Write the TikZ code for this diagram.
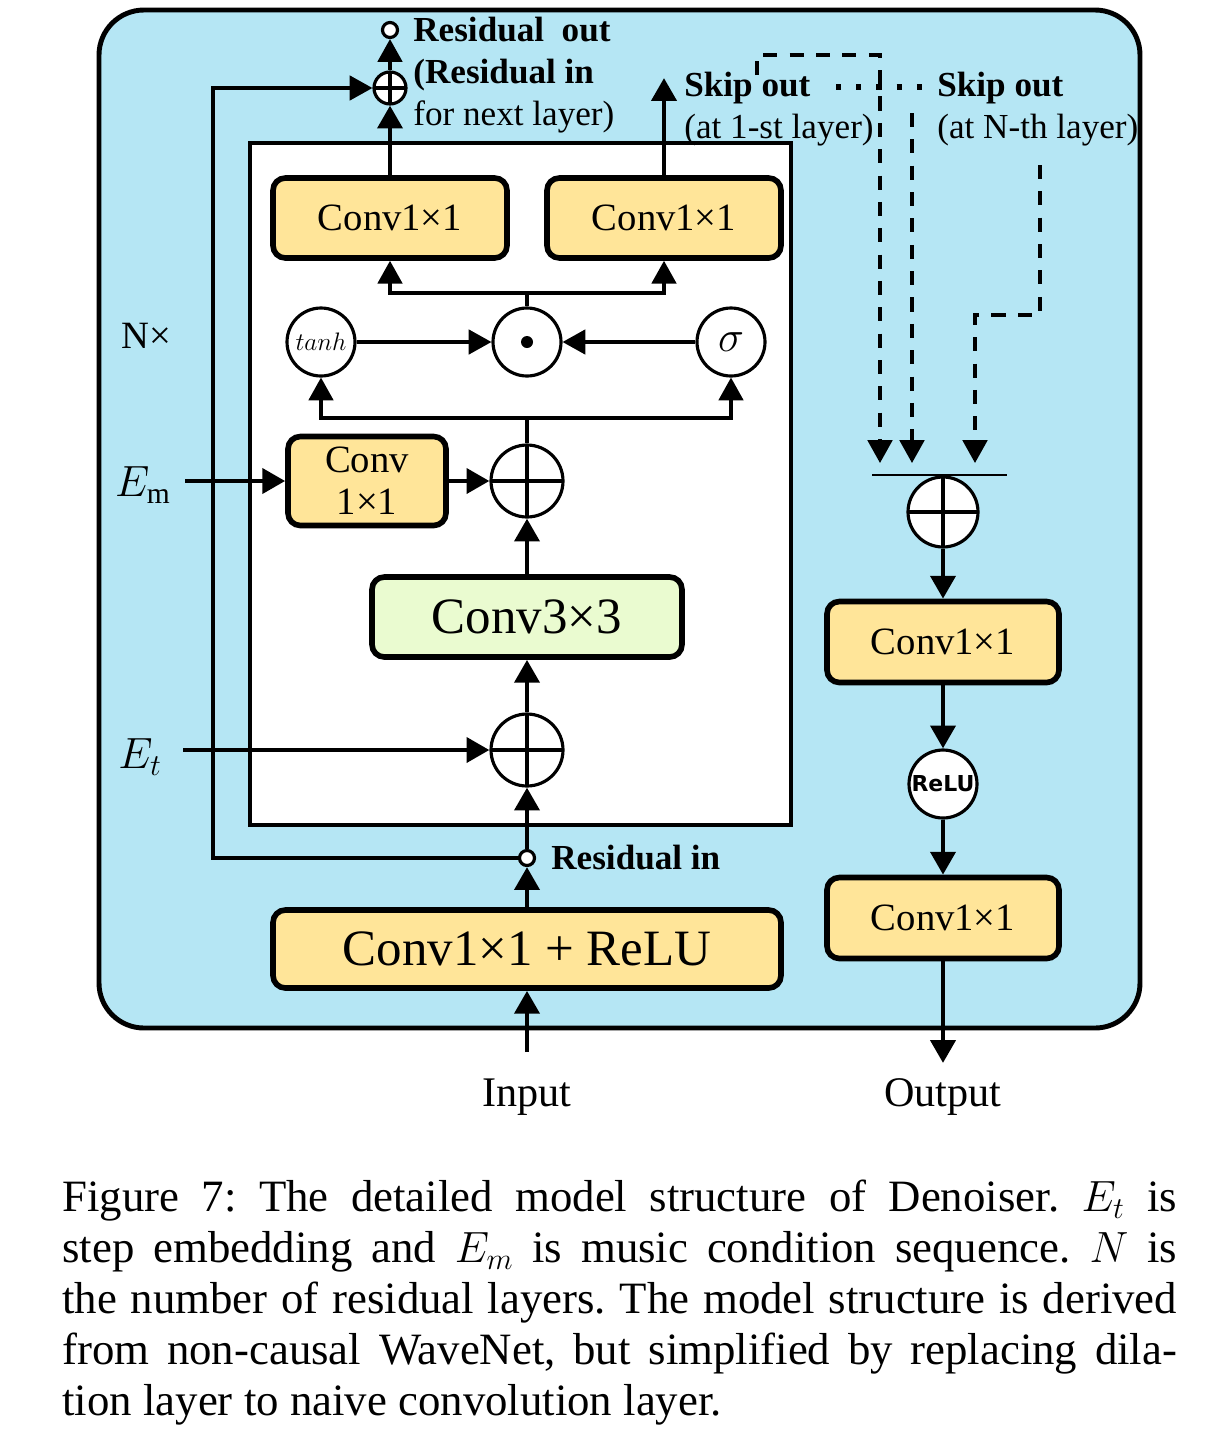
\documentclass[tikz,border=0pt]{standalone}
\usepackage{fontspec}
\setmainfont{Liberation Serif}
\newfontfamily\relufont{DejaVu Sans}
\usetikzlibrary{arrows.meta,positioning}
\definecolor{panelblue}{RGB}{181,230,244}
\definecolor{convyellow}{RGB}{255,229,153}
\definecolor{convgreen}{RGB}{234,251,208}
\frenchspacing
\tikzset{
  conv/.style={draw, line width=3.2pt, rounded corners=7pt, fill=convyellow, inner sep=0pt, align=center, font=\fontsize{22}{25.5}\selectfont},
  gate/.style={circle, draw, line width=1.8pt, fill=white, inner sep=0pt, minimum size=1.36cm},
  adder/.style={gate, path picture={\draw[line width=1.8pt] (path picture bounding box.north) -- (path picture bounding box.south) (path picture bounding box.west) -- (path picture bounding box.east);}},
  port/.style={circle, draw, line width=1.8pt, fill=white, inner sep=0pt, minimum size=0.3cm},
  thickarrow/.style={->, line width=2.8pt},
  thinarrow/.style={->, line width=1.8pt},
  skipline/.style={->, line width=1.8pt, dash pattern=on 8pt off 7pt},
  dotline/.style={line width=3pt, dash pattern=on 3pt off 8.5pt},
  lbl/.style={font=\fontsize{20}{23.8}\selectfont, align=left, inner sep=0pt}
}
\begin{document}
\begin{tikzpicture}[x=0.02cm, y=-0.02cm, >={Triangle[length=13pt,width=14pt]}]
\useasboundingbox (0,0) rectangle (1218,1444);
% panels
\draw[line width=2.8pt, fill=panelblue, rounded corners=0.9cm] (99,10) rectangle (1140,1028);
\draw[line width=1.8pt, fill=white] (250,143) rectangle (791,825);

% residual layer
\node[conv, minimum width=4.68cm, minimum height=1.6cm] (c1l) at (390,218) {Conv1×1};
\node[conv, minimum width=4.68cm, minimum height=1.6cm] (c1r) at (664,218) {Conv1×1};
\node[gate, font=\fontsize{15}{18}\selectfont] (tanh) at (321,342) {$tanh$};
\node[gate, path picture={\fill[black] (path picture bounding box.center) circle (0.12cm);}] (prod) at (527,342) {};
\node[gate, font=\fontsize{24}{28}\selectfont] (sig) at (731,342) {$\sigma$};
\node[adder, minimum size=1.44cm] (sum2) at (527,481) {};
\node[conv, minimum width=3.16cm, minimum height=1.78cm, font=\fontsize{22}{24}\selectfont] (cm) at (367,481) {Conv\\1×1};
\node[conv, fill=convgreen, minimum width=6.2cm, minimum height=1.6cm, font=\fontsize{29}{32}\selectfont] (c3) at (527,617) {Conv3×3};
\node[adder, minimum size=1.44cm] (sum1) at (527,750) {};
\node[port] (resin) at (527,858) {};
\node[conv, minimum width=10.16cm, minimum height=1.56cm, font=\fontsize{29}{32}\selectfont] (pre) at (527,949) {Conv1×1 + ReLU};
\node[adder, minimum size=0.64cm] (res1) at (390,88) {};
\node[port] (resout) at (390,30) {};

% output stack
\node[adder, minimum size=1.4cm] (skipsum) at (943,512) {};
\node[conv, minimum width=4.64cm, minimum height=1.62cm] (post1) at (943,642) {Conv1×1};
\node[gate, font=\relufont\bfseries\fontsize{12.5}{15}\selectfont] (relu) at (943,784) {ReLU};
\node[conv, minimum width=4.64cm, minimum height=1.62cm] (post2) at (943,918) {Conv1×1};

% texts
\node[font=\fontsize{24}{28}\selectfont] (input) at (527,1097) {Input};
\node[font=\fontsize{24}{28}\selectfont] (output) at (943,1097) {Output};
\node[font=\fontsize{24}{28}\selectfont] (em) at (143,485) {$E_\mathrm{m}$};
\node[font=\fontsize{24}{28}\selectfont] (et) at (140,757) {$E_t$};
\node[font=\fontsize{22}{26}\selectfont] (nx) at (146,336) {N×};
\node[lbl, anchor=west] (resoutlbl) at (413,75) {\textbf{Residual~~out}\\\textbf{(Residual in}\\for next layer)};
\node[lbl, anchor=west] (skip1lbl) at (684,109) {\textbf{Skip out}\\(at 1-st layer)};
\node[lbl, anchor=west] (skipnlbl) at (937,109) {\textbf{Skip out}\\(at N-th layer)};
\node[lbl, anchor=west, font=\bfseries\fontsize{20}{23.8}\selectfont] (resinlbl) at (551,858) {Residual in};

% free ends
\coordinate (inp) at (527,1052);
\coordinate (outp) at (943,1063);
\coordinate (emsrc) at (185,481);
\coordinate (etsrc) at (183,750);
\coordinate (loop) at (213,858);
\coordinate (skiptip) at (664,78);
\coordinate (split) at (527,293);
\coordinate (fork) at (527,418);
\coordinate (barl) at (872,475);
\coordinate (barr) at (1007,475);
\coordinate (d1a) at (757,75);
\coordinate (d2a) at (912,113);
\coordinate (d3a) at (1040,165);
\coordinate (sk1) at (880,463);
\coordinate (sk2) at (912,463);
\coordinate (sk3) at (975,463);
\coordinate (dota) at (836,87);
\coordinate (dotb) at (934,87);

% connectors
\draw[thickarrow] (inp) -- (pre);
\draw[thickarrow] (pre) -- (resin);
\draw[thickarrow] (resin) -- (sum1);
\draw[thinarrow] (resin) -- (loop) |- (res1);
\draw[thickarrow] (etsrc) -- (sum1);
\draw[thickarrow] (sum1) -- (c3);
\draw[thickarrow] (c3) -- (sum2);
\draw[thickarrow] (emsrc) -- (cm);
\draw[thickarrow] (cm) -- (sum2);
\draw[thinarrow] (sum2.north) -- (fork) -| (tanh.south);
\draw[thinarrow] (fork) -| (sig.south);
\draw[thinarrow] (tanh) -- (prod);
\draw[thinarrow] (sig) -- (prod);
\draw[thinarrow] (prod.north) -- (split) -| (c1l.south);
\draw[thinarrow] (split) -| (c1r.south);
\draw[thickarrow] (c1l) -- (res1);
\draw[thinarrow] (res1) -- (resout);
\draw[thickarrow] (c1r) -- (skiptip);

% skip connections
\draw[skipline] (d1a) -- (757,55) -| (sk1);
\draw[skipline] (d2a) -- (sk2);
\draw[skipline] (d3a) -- (1040,315) -| (sk3);
\draw[dotline] (dota) -- (dotb);
\draw[line width=1.2pt] (barl) -- (barr);
\draw[thickarrow] (skipsum) -- (post1);
\draw[thickarrow] (post1) -- (relu);
\draw[thickarrow] (relu) -- (post2);
\draw[thickarrow] (post2) -- (outp);

% caption
\node[anchor=north west, text width=22.3cm, align=justify, inner sep=0pt, font=\fontsize{25.5}{29}\selectfont] (caption) at (62,1180) {Figure 7: The detailed model structure of Denoiser. $E_t$ is\linebreak step embedding and $E_m$ is music condition sequence. $N$ is\linebreak the number of residual layers. The model structure is derived\linebreak from non-causal WaveNet, but simplified by replacing dila-\linebreak tion layer to naive convolution layer.};
\end{tikzpicture}
\end{document}
